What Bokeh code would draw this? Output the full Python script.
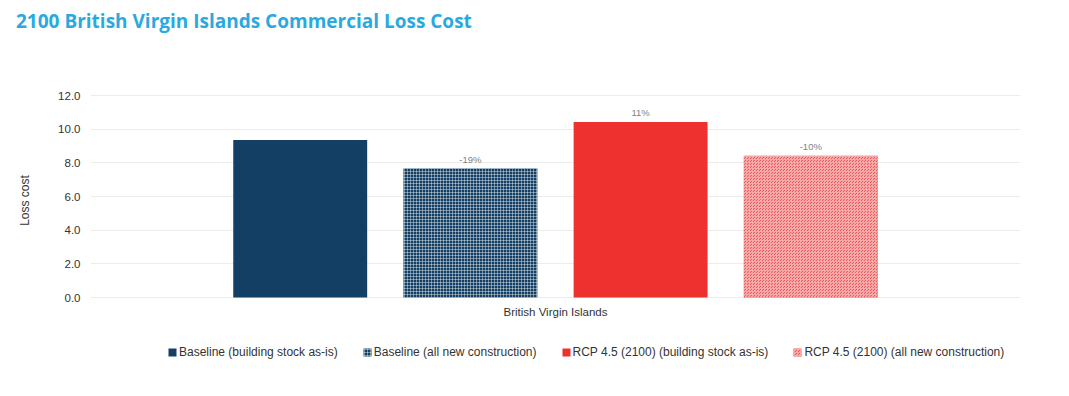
from bokeh.plotting import figure
from bokeh.layouts import column
from bokeh.models import ColumnDataSource, FactorRange, Legend, LegendItem, FixedTicker, NumeralTickFormatter, Div
from bokeh.transform import dodge
from bokeh.core.properties import value
from bokeh.embed import file_html
from bokeh.resources import INLINE

# ---- data ----
title_text = "2100 British Virgin Islands Commercial Loss Cost"
region = ["British Virgin Islands"]
series = [
    "Baseline (building stock as-is)",
    "Baseline (all new construction)",
    "RCP 4.5 (2100) (building stock as-is)",
    "RCP 4.5 (2100) (all new construction)",
]
loss_cost = [9.36, 7.66, 10.42, 8.42]
change_labels = ["", "-19%", "11%", "-10%"]
y_ticks = [0, 2, 4, 6, 8, 10, 12]

# ---- styles / layout ----
fill_colors = ["#143f64", "#143f64", "#ee302e", "#e9585a"]
hatch_patterns = [None, "cross", None, "criss_cross"]
hatch_colors = [None, "#ffffff", None, "#f7a8a8"]
hatch_alphas = [0, 0.4, 0, 1.0]
GROUP_STEP = 0.183
BAR_W = 0.144

TITLE_H = 40
FIG_W, FIG_H = 1061, 340
BORDER_L, BORDER_R, BORDER_B = 90, 41, 20
# pixel positions (page) of value 0 and value 12
PX_ZERO, PX_TOP = 297, 95
px_per_unit = (PX_ZERO - PX_TOP) / 12.0
frame_top = TITLE_H
frame_bottom = TITLE_H + FIG_H - BORDER_B
y_lo = -(frame_bottom - PX_ZERO) / px_per_unit
y_hi = 12 + (PX_TOP - frame_top) / px_per_unit

title = Div(
    text=('<div style="font-family:\'Open Sans\';font-weight:bold;font-size:19px;'
          'color:#29a9e0;padding:9px 0 0 16px;white-space:nowrap;line-height:1.362;">'
          + title_text + '</div>'),
    width=FIG_W, height=TITLE_H, margin=(0, 0, 0, 0),
)

p = figure(
    x_range=FactorRange(factors=region, range_padding=0),
    y_range=(y_lo, y_hi),
    width=FIG_W, height=FIG_H,
    output_backend="svg", toolbar_location=None,
    min_border_left=BORDER_L, min_border_right=BORDER_R,
    min_border_bottom=BORDER_B, min_border_top=0,
    margin=(0, 0, 0, 0),
)
p.outline_line_color = None
p.background_fill_color = "white"
p.border_fill_color = "white"
p.xaxis.visible = False

items = []
for i, name in enumerate(series):
    src = ColumnDataSource(dict(region=region, v=[loss_cost[i]], lab=[change_labels[i]]))
    off = (i - 1.5) * GROUP_STEP
    kw = {}
    if hatch_patterns[i]:
        kw = dict(hatch_pattern=hatch_patterns[i], hatch_color=hatch_colors[i],
                  hatch_alpha=hatch_alphas[i], hatch_scale=3, hatch_weight=1)
    r = p.vbar(x=dodge("region", off, range=p.x_range), top="v", bottom=0, width=BAR_W, source=src,
               fill_color=fill_colors[i], line_color=None, **kw)
    p.text(x=dodge("region", off, range=p.x_range), y="v", text="lab", source=src,
           text_font=value("Liberation Sans"), text_font_size="9.5px", text_color="#7f7f7f",
           text_align="center", text_baseline="bottom", y_offset=-4)
    items.append(LegendItem(label=name, renderers=[r]))

# category label under the bars (in place of the x axis)
cat_src = ColumnDataSource(dict(region=region, y=[0] * len(region)))
p.text(x="region", y="y", text="region", source=cat_src,
       text_font=value("Liberation Sans"), text_font_size="11.5px", text_color="#333333",
       text_align="center", text_baseline="top", y_offset=8)

legend = Legend(items=items, orientation="horizontal", location=(77, 1),
                glyph_width=10, glyph_height=10, label_standoff=2, spacing=24,
                label_text_font="Liberation Sans", label_text_font_size="12px",
                label_text_color="#333333", border_line_color=None,
                background_fill_alpha=0, padding=0, margin=0)
p.add_layout(legend, "center")

p.yaxis.ticker = FixedTicker(ticks=y_ticks)
p.yaxis.formatter = NumeralTickFormatter(format="0.0")
p.yaxis.axis_label = "Loss cost"
p.yaxis.axis_label_text_font = "Liberation Sans"
p.yaxis.axis_label_text_font_style = "normal"
p.yaxis.axis_label_text_font_size = "12px"
p.yaxis.axis_label_text_color = "#333333"
p.yaxis.axis_label_standoff = 23
p.yaxis.major_label_text_font = "Liberation Sans"
p.yaxis.major_label_text_font_size = "11.5px"
p.yaxis.major_label_text_color = "#333333"
p.yaxis.major_label_standoff = 10
p.yaxis.major_tick_out = 0
p.yaxis.major_tick_in = 0
p.yaxis.axis_line_color = None
p.yaxis.major_tick_line_color = None
p.yaxis.minor_tick_line_color = None

p.xgrid.grid_line_color = None
p.ygrid.ticker = FixedTicker(ticks=y_ticks)
p.ygrid.grid_line_color = "#ececec"
p.ygrid.grid_line_width = 1

layout = column(title, p, spacing=0, margin=(0, 0, 0, 0))
open("out.html", "w").write(file_html(layout, INLINE))
